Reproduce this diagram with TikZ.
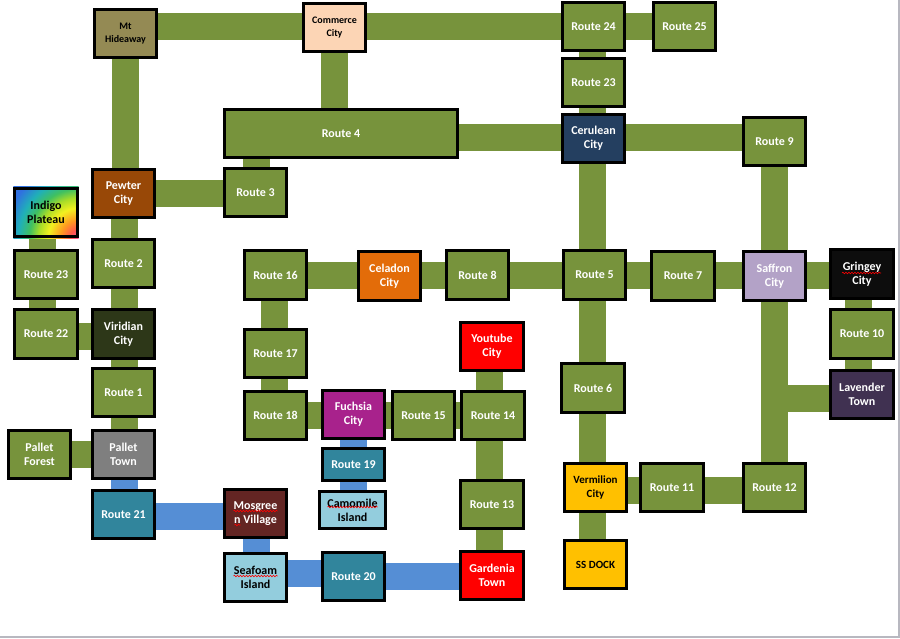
\documentclass[tikz,border=0pt]{standalone}
\usepackage{fontspec}
\setmainfont{Carlito}
\usetikzlibrary{backgrounds,decorations.pathmorphing}
\definecolor{rgreen}{HTML}{77933C}
\definecolor{rblue}{HTML}{558ED5}
\definecolor{rteal}{HTML}{31859C}
\definecolor{rlight}{HTML}{93CDDD}
\definecolor{rkhaki}{HTML}{948A54}
\definecolor{rpeach}{HTML}{FCD5B5}
\definecolor{rnavy}{HTML}{243F60}
\definecolor{rbrown}{HTML}{984807}
\definecolor{rorange}{HTML}{E36C09}
\definecolor{rlav}{HTML}{B3A2C7}
\definecolor{rblack}{HTML}{0D0D0D}
\definecolor{rolive}{HTML}{2D3718}
\definecolor{rred}{HTML}{FF0000}
\definecolor{rpurple}{HTML}{403151}
\definecolor{rmagenta}{HTML}{A8228C}
\definecolor{rgray}{HTML}{7F7F7F}
\definecolor{rgold}{HTML}{FFC000}
\definecolor{rmaroon}{HTML}{632523}
\definecolor{rframe}{HTML}{B8B8C0}
\definecolor{gpink}{HTML}{FF4F9A}
\definecolor{gred}{HTML}{FF5A4A}
\definecolor{gorange}{HTML}{FF9A20}
\definecolor{gyellow}{HTML}{F2F020}
\definecolor{glime}{HTML}{A8DC28}
\definecolor{ggreen}{HTML}{40C060}
\definecolor{gcyan}{HTML}{20B0B8}
\definecolor{gblue}{HTML}{3070E0}
\pgfdeclareradialshading{rainbowrad}{\pgfpoint{0bp}{0bp}}{%
 color(0bp)=(gpink); color(9bp)=(gred); color(18bp)=(gorange);
 color(30bp)=(gyellow); color(40bp)=(glime); color(49bp)=(ggreen);
 color(60bp)=(gcyan); color(74bp)=(gblue); color(95bp)=(gblue)}
\tikzset{
 box/.style={draw=black, line width=2.6pt, minimum width=62.5pt, minimum height=48.5pt,
   inner sep=0pt, align=center, font=\fontsize{12}{14}\selectfont\bfseries,
   text=white, fill=rgreen},
 dark/.style={text=black},
 small/.style={font=\fontsize{10}{13}\selectfont\bfseries},
 mid/.style={font=\fontsize{11}{14}\selectfont\bfseries},
 road/.style={line width=27pt, draw=rgreen},
 sea/.style={line width=27pt, draw=rblue},
 squig/.style={draw=red, line width=0.6pt, decorate,
   decoration={snake, amplitude=0.8pt, segment length=3pt}},
}
\begin{document}
\begin{tikzpicture}[x=1pt,y=-1pt]
\useasboundingbox (0,0) rectangle (900,638);
% nodes
\node[box, fill=rkhaki, dark, small] (mt) at (125.5,33.5) {Mt\\Hideaway};
\node[box, fill=rpeach, dark, small] (commerce) at (334.5,27.5) {Commerce\\City};
\node[box] (r24) at (593.5,26.5) {Route 24};
\node[box] (r25) at (684.5,26.5) {Route 25};
\node[box] (r23b) at (593.5,82.5) {Route 23};
\node[box, minimum width=233pt] (r4) at (341,133.5) {Route 4};
\node[box, fill=rnavy] (cerulean) at (593.5,138.5) {Cerulean\\City};
\node[box] (r9) at (774.5,141.5) {Route 9};
\node[box] (r3) at (255.5,192.5) {Route 3};
\node[box, fill=rbrown] (pewter) at (123.5,193.5) {Pewter\\City};
\node[box, fill=none, dark] (indigo) at (46,212.5) {Indigo\\Plateau};
\node[box] (r23a) at (46,274.5) {Route 23};
\node[box] (r2) at (123.5,263.5) {Route 2};
\node[box] (r16) at (275.5,275) {Route 16};
\node[box, fill=rorange] (celadon) at (389.5,276) {Celadon\\City};
\node[box] (r8) at (477.5,275) {Route 8};
\node[box] (r5) at (594.5,275) {Route 5};
\node[box] (r7) at (683,276) {Route 7};
\node[box, fill=rlav] (saffron) at (774.5,276) {Saffron\\City};
\node[box, fill=rblack] (gringey) at (862,274) {Gringey\\City};
\node[box] (r22) at (46,334) {Route 22};
\node[box, fill=rolive] (viridian) at (123.5,334) {Viridian\\City};
\node[box] (r10) at (862,334) {Route 10};
\node[box, fill=rred] (youtube) at (492,346.5) {Youtube\\City};
\node[box] (r17) at (275.5,353.5) {Route 17};
\node[box] (r6) at (593,388) {Route 6};
\node[box, fill=rpurple] (lavender) at (862,394.5) {Lavender\\Town};
\node[box] (r1) at (123.5,392.5) {Route 1};
\node[box] (r18) at (275.5,415.5) {Route 18};
\node[box, fill=rmagenta] (fuchsia) at (353.5,414.5) {Fuchsia\\City};
\node[box] (r15) at (423.5,415.5) {Route 15};
\node[box] (r14) at (493,415.5) {Route 14};
\node[box] (forest) at (39.5,454.5) {Pallet\\Forest};
\node[box, fill=rgray] (pallet) at (123.5,454.5) {Pallet\\Town};
\node[box, fill=rteal, minimum height=32pt] (r19) at (353.5,464.5) {Route 19};
\node[box, fill=rgold, dark, mid] (vermilion) at (595.5,487.5) {Vermilion\\City};
\node[box] (r11) at (672,487.5) {Route 11};
\node[box] (r12) at (774.5,487.5) {Route 12};
\node[box] (r13) at (492,504.5) {Route 13};
\node[box, fill=rteal] (r21) at (123.5,514.5) {Route 21};
\node[box, fill=rmaroon] (mosgreen) at (255.5,513.5) {Mosgree\\n Village};
\node[box, fill=rlight, dark, minimum width=66pt, minimum height=37pt] (camomile) at (352.5,510) {Camomile\\Island};
\node[box, fill=rgold, dark, mid] (ssdock) at (595.5,564.5) {SS DOCK};
\node[box, fill=rred] (gardenia) at (492,575.5) {Gardenia\\Town};
\node[box, fill=rlight, dark] (seafoam) at (255.5,577.5) {Seafoam\\Island};
\node[box, fill=rteal] (r20) at (353.5,576.5) {Route 20};
% spell-check marks
\draw[squig] ([xshift=-20pt,yshift=1pt]gringey.center) -- ([xshift=19pt,yshift=1pt]gringey.center);
\draw[squig] ([xshift=-25pt,yshift=3pt]camomile.center) -- ([xshift=25pt,yshift=3pt]camomile.center);
\draw[squig] ([xshift=-22pt,yshift=1.5pt]seafoam.center) -- ([xshift=22pt,yshift=1.5pt]seafoam.center);
\draw[squig] ([xshift=-22pt,yshift=2.5pt]mosgreen.center) -- ([xshift=22pt,yshift=2.5pt]mosgreen.center);
\draw[squig] ([xshift=-21pt,yshift=-11.5pt]mosgreen.center) -- ([xshift=-15pt,yshift=-11.5pt]mosgreen.center);
% connectors
\begin{pgfonlayer}{background}
\fill[white] (0,0) rectangle (900,638);
\draw[rframe, line width=1.2pt] (899,0) -- (899,637) -- (0,637);
\draw[road] (mt |- r24) -- (r24);
\draw[road] (mt) -- (mt |- pewter);
\draw[road] (commerce) -- (commerce |- r4);
\draw[road] ([xshift=1pt]r3.center) -- ([xshift=1pt]r3 |- r4);
\draw[road] (pewter) -- (pewter -| r3);
\draw[road] ([yshift=-4pt]r4.center) -- ([yshift=-4pt]r4 -| cerulean);
\draw[road] ([yshift=1pt]cerulean.center) -- ([yshift=1pt]cerulean -| r9);
\draw[road] (r24) -- (r25);
\draw[road] ([xshift=-1pt]r24.center) -- ([xshift=-1pt]r24 |- ssdock);
\draw[road] (r9) -- (r9 |- r12);
\draw[road] ([xshift=-3.5pt]indigo.center) -- ([xshift=-3.5pt]indigo |- r22);
\draw[road] ([xshift=1pt]pewter.center) -- ([xshift=1pt]pewter |- pallet);
\draw[road] ([yshift=-2.5pt]r22.center) -- ([yshift=-2.5pt]r22 -| viridian);
\draw[road] (forest) -- (pallet);
\draw[road] ([yshift=-0.5pt]r16.center) -- ([yshift=-0.5pt]r16 -| gringey);
\draw[road] ([xshift=-1pt]r16.center) -- ([xshift=-1pt]r16 |- r18);
\draw[road] (r18) -- (r18 -| r14);
\draw[road] ([xshift=-2.5pt]youtube.center) -- ([xshift=-2.5pt]youtube |- gardenia);
\draw[road] ([yshift=-3pt]vermilion.center) -- ([yshift=-3pt]vermilion -| r12);
\draw[road] ([xshift=-3.5pt]gringey.center) -- ([xshift=-3.5pt]gringey |- lavender);
\draw[road] ([yshift=-4pt]lavender.center) -- ([yshift=-4pt]lavender -| r9);
\draw[sea] ([xshift=1pt]pallet.center) -- ([xshift=1pt]r21.center);
\draw[sea] ([yshift=-2pt]r21.center) -- ([yshift=-2pt]r21 -| mosgreen);
\draw[sea] ([xshift=1pt]mosgreen.center) -- ([xshift=1pt]seafoam.center);
\draw[sea] ([yshift=4pt]seafoam.center) -- ([yshift=4pt]seafoam -| r20);
\draw[sea] (r20) -- (r20 -| gardenia);
\draw[sea] (fuchsia) -- (fuchsia |- camomile);
\begin{scope}
\clip (indigo.south west) rectangle (indigo.north east);
\begin{scope}[shift={(indigo.south east)}]
\pgftext{\pgfuseshading{rainbowrad}}
\end{scope}
\end{scope}
\end{pgfonlayer}
\end{tikzpicture}
\end{document}
